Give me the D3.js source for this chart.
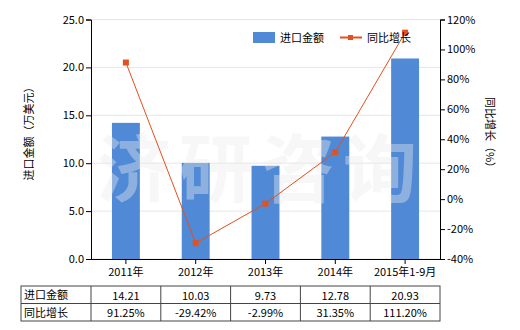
<!DOCTYPE html>
<html>
<head>
<meta charset="utf-8">
<script src="https://cdn.jsdelivr.net/npm/d3@7"></script>
<style>
  body { margin: 0; background: #fff; }
  text { font-family: "Microsoft YaHei", "Noto Sans CJK SC", sans-serif; }
</style>
</head>
<body>
<div id="chart"></div>
<script>
const categories = ['2011年', '2012年', '2013年', '2014年', '2015年1-9月'];
const importValues = [14.21, 10.03, 9.73, 12.78, 20.93];
const growthValues = [91.25, -29.42, -2.99, 31.35, 111.20];
const leftTicks = [0, 5, 10, 15, 20, 25];
const rightTicks = [-40, -20, 0, 20, 40, 60, 80, 100, 120];

const W = 520, H = 330;
const margin = {left: 91, right: 80, top: 19.5, bottom: 71};
const plotW = W - margin.left - margin.right,
  plotH = H - margin.top - margin.bottom;

const barColor = '#5089d6';
const lineColor = '#e4501e';

const svg = d3.select('#chart').append('svg')
  .attr('width', W)
  .attr('height', H);

const g = svg.append('g')
  .attr('transform', `translate(${margin.left},${margin.top})`);

const x = d3.scaleBand()
  .domain(categories)
  .range([0, plotW])
  .paddingInner(0.6)
  .paddingOuter(0.3);

const xCol = d3.scaleBand()
  .domain(categories)
  .range([0, plotW]);

const y = d3.scaleLinear().domain([0, 25]).range([plotH, 0]);
const y2 = d3.scaleLinear().domain([-40, 120]).range([plotH, 0]);

// gridlines
g.selectAll('.grid')
  .data(leftTicks)
  .enter()
  .append('line')
  .attr('x1', 0)
  .attr('x2', plotW)
  .attr('y1', d => y(d))
  .attr('y2', d => y(d))
  .attr('stroke', '#e6e6e6')
  .attr('stroke-width', 1);

// bars
g.selectAll('.bar')
  .data(importValues)
  .enter()
  .append('rect')
  .attr('x', (d, i) => x(categories[i]))
  .attr('y', d => y(d))
  .attr('width', x.bandwidth())
  .attr('height', d => plotH - y(d))
  .attr('fill', barColor);

// watermark
g.append('text')
  .attr('x', 6)
  .attr('y', 176)
  .style('font-size', '74px')
  .style('font-weight', 'bold')
  .style('letter-spacing', '8px')
  .attr('fill', '#ececec')
  .attr('opacity', 0.4)
  .text('济研咨询');

// axes
const yAxisL = d3.axisLeft(y).tickValues(leftTicks).tickFormat(d3.format('.1f')).tickSize(5);
const yAxisR = d3.axisRight(y2).tickValues(rightTicks).tickFormat(d => d + '%').tickSize(5);
const xAxis = d3.axisBottom(xCol).tickSize(5);

const gl = g.append('g').call(yAxisL);
const gr = g.append('g').attr('transform', `translate(${plotW},0)`).call(yAxisR);
const gx = g.append('g').attr('transform', `translate(0,${plotH})`).call(xAxis);

[gl, gr, gx].forEach(a => {
  a.selectAll('path, line').attr('stroke', '#000');
  a.selectAll('text').style('font-size', '11px').attr('fill', '#000');
});
gl.selectAll('text').attr('x', -7);
gr.selectAll('text').attr('x', 7);
gx.select('.domain').attr('d', `M0,0.5H${plotW}`);
gx.selectAll('text').attr('y', 9);

// line
const line = d3.line()
  .x((d, i) => x(categories[i]) + x.bandwidth() / 2)
  .y(d => y2(d));

g.append('path')
  .datum(growthValues)
  .attr('d', line)
  .attr('fill', 'none')
  .attr('stroke', lineColor)
  .attr('stroke-width', 1);

g.selectAll('.pt')
  .data(growthValues)
  .enter()
  .append('rect')
  .attr('x', (d, i) => x(categories[i]) + x.bandwidth() / 2 - 3)
  .attr('y', d => y2(d) - 3)
  .attr('width', 6)
  .attr('height', 6)
  .attr('fill', lineColor);

// legend
const leg = svg.append('g');
leg.append('rect').attr('x', 253).attr('y', 32).attr('width', 22).attr('height', 11).attr('fill', barColor);
leg.append('text').attr('x', 280).attr('y', 42).style('font-size', '11px').text('进口金额');
leg.append('line').attr('x1', 340).attr('x2', 362).attr('y1', 37.5).attr('y2', 37.5)
  .attr('stroke', lineColor).attr('stroke-width', 2);
leg.append('rect').attr('x', 348).attr('y', 35).attr('width', 5).attr('height', 5).attr('fill', lineColor);
leg.append('text').attr('x', 367).attr('y', 42).style('font-size', '11px').text('同比增长');

// axis titles
svg.append('text')
  .attr('transform', 'translate(33,131) rotate(-90)')
  .attr('text-anchor', 'middle')
  .style('font-size', '11px')
  .text('进口金额（万美元）');

svg.append('text')
  .attr('transform', 'translate(486,135) rotate(90)')
  .attr('text-anchor', 'middle')
  .style('font-size', '11px')
  .text('同比增长（%）');

// data table
const tbl = svg.append('g').attr('transform', `translate(${margin.left},286)`);
const rowH = 17.5, labelW = 70;
const rows = [
  {name: '进口金额', vals: importValues.map(d => d.toFixed(2))},
  {name: '同比增长', vals: growthValues.map(d => d.toFixed(2) + '%')}
];

tbl.append('rect')
  .attr('x', -labelW).attr('y', 0)
  .attr('width', labelW + plotW).attr('height', rowH * 2)
  .attr('fill', 'none').attr('stroke', '#444');
tbl.append('line')
  .attr('x1', -labelW).attr('x2', plotW)
  .attr('y1', rowH).attr('y2', rowH)
  .attr('stroke', '#444');
tbl.selectAll('.col')
  .data(categories)
  .enter()
  .append('line')
  .attr('x1', d => xCol(d)).attr('x2', d => xCol(d))
  .attr('y1', 0).attr('y2', rowH * 2)
  .attr('stroke', '#444');

rows.forEach((r, ri) => {
  tbl.append('text')
    .attr('x', -labelW + 3)
    .attr('y', ri * rowH + 13)
    .style('font-size', '11px')
    .text(r.name);
  tbl.selectAll('.v' + ri)
    .data(r.vals)
    .enter()
    .append('text')
    .attr('x', (d, i) => xCol(categories[i]) + xCol.bandwidth() / 2)
    .attr('y', ri * rowH + 13.5)
    .attr('text-anchor', 'middle')
    .style('font-size', '11px')
    .text(d => d);
});
</script>
</body>
</html>
